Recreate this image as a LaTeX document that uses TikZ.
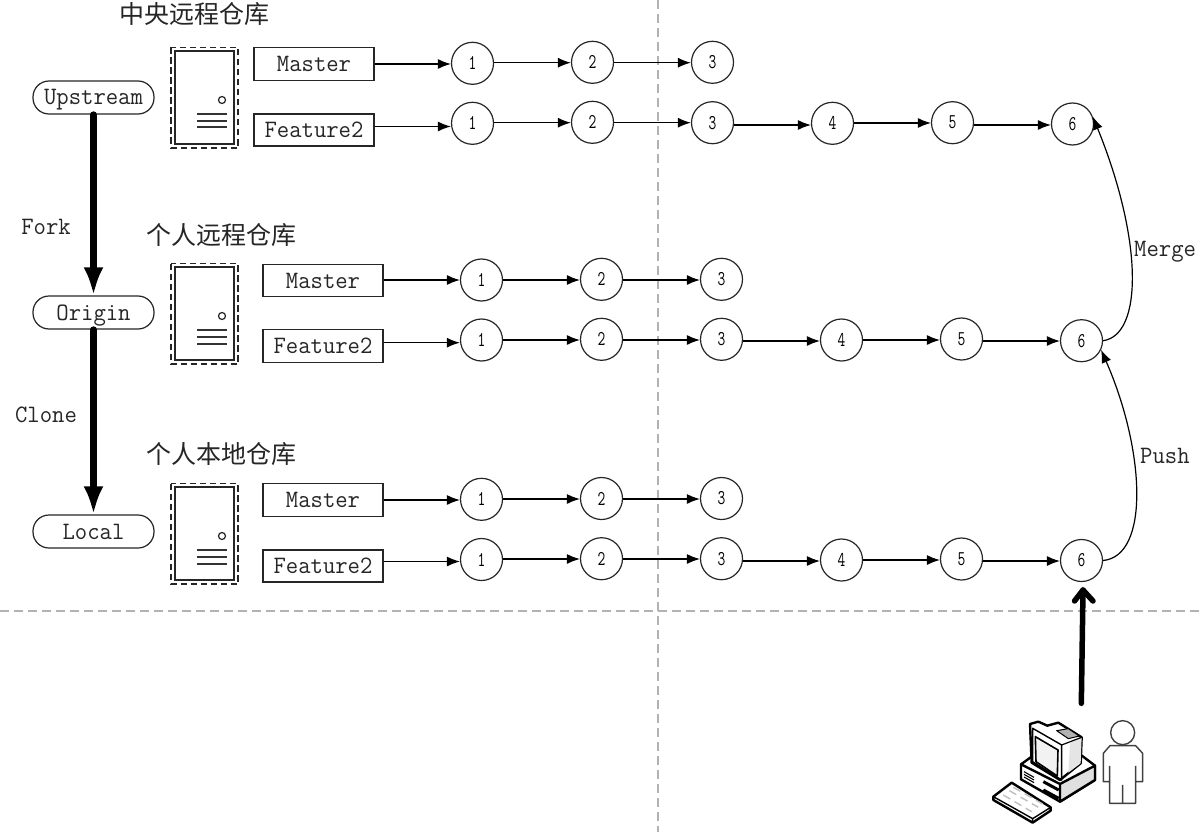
\documentclass[tikz,border=0pt]{standalone}
\usepackage{fontspec}
\usepackage{graphicx}
\newfontfamily\cjk{Noto Sans CJK SC}
\usetikzlibrary{arrows.meta}
\newcommand{\mono}[1]{\scalebox{.96}[1]{#1}}
\newcommand{\digit}[1]{\scalebox{.72}[1]{#1}}
\tikzset{
  x=1pt,y=-1pt,
  stroke/.style={draw=black!85,line width=1.2pt},
  commit/.style={circle,stroke,fill=white,minimum size=42pt,inner sep=0pt,font=\ttfamily\fontsize{21}{21}\selectfont},
  monotext/.style={inner sep=0pt,text height=15pt,text depth=0pt,font=\ttfamily\fontsize{25}{27}\selectfont,text=black!85},
  branch/.style={rectangle,stroke,fill=white,minimum width=120pt,inner sep=0pt,monotext},
  repo/.style={rectangle,rounded corners=16pt,stroke,fill=white,minimum width=121pt,minimum height=33pt,monotext},
  plain/.style={monotext},
  title/.style={inner sep=0pt,font=\cjk\fontsize{25}{27}\selectfont,text=black!85},
  link/.style={draw=black,line width=1.2pt,-{Latex[length=13pt,width=10pt]}},
  heavy/.style={draw=black,line width=6.5pt,line cap=round,-{Latex[length=28pt,width=20pt]}},
  guide/.style={draw=black!30,line width=1.1pt,dash pattern=on 9pt off 5pt},
  pc/.style={draw=black,line width=2.4pt,line join=round},
}
\newcommand{\serverat}[1]{%
  \begin{scope}[yshift=-#1pt]
    \draw[black!85,line width=1.1pt,dash pattern=on 6.5pt off 3.5pt] (171,47.5) rectangle (238,148);
    \draw[stroke,line width=1.3pt] (175,51) rectangle (234,144);
    \draw[stroke] (222,100) circle (3.5);
    \draw[black!80,line width=2pt] (197,114) -- (227,114) (197,121) -- (227,121) (197,127.5) -- (227,127.5);
  \end{scope}}
% prefix, box centre x, box centre y, box height, label, list of number/circle y/connector y
\newcommand{\commitrow}[6]{%
  \node[branch,minimum height=#4pt] (#1L) at (#2,#3) {\mono{#5}};
  \foreach \i/\cy/\ay [remember=\i as \p (initially L)] in {#6} {
    \pgfmathsetmacro{\cx}{#2+38.5+120*\i}
    \node[commit] (#1\i) at (\cx,\cy) {\digit{\i}};
    \draw[link] (#1\p.east |- 0,\ay) -- (#1\i.west |- 0,\ay);
  }}
\begin{document}
\begin{tikzpicture}
\useasboundingbox (0,0) rectangle (1204,832);
\fill[white] (0,0) rectangle (1204,832);
\coordinate (vt) at (658,0); \coordinate (vb) at (658,832);
\coordinate (hl) at (0,611); \coordinate (hr) at (1204,611);
\draw[guide] (vt) -- (vb);
\draw[guide] (hl) -- (hr);

\serverat{0}\serverat{216}\serverat{436}

\node[title] (t1) at (194,14) {中央远程仓库};
\node[title] (t2) at (221,235) {个人远程仓库};
\node[title] (t3) at (221,454) {个人本地仓库};

\node[repo] (up) at (93.5,97.5) {\mono{Upstream}};
\node[repo] (or) at (93.5,312.5) {\mono{Origin}};
\node[repo] (lo) at (93.5,531.5) {\mono{Local}};
\draw[heavy] (up) -- (or);
\draw[heavy] (or) -- (lo);
\node[plain] (fork) at (46,227) {\mono{Fork}};
\node[plain] (clone) at (46,415) {\mono{Clone}};

\commitrow{am}{314}{64}{33}{Master}{1/63.3/64,2/62.3/62.7,3/62.3/62.7}
\commitrow{af}{314}{130}{32}{Feature2}{1/123.3/126.5,2/122.3/122.7,3/122.7/122.7,4/123.3/125,5/122.7/123,6/124/125}
\commitrow{bm}{323}{280.5}{32}{Master}{1/280/280,2/279.3/280,3/279.3/280}
\commitrow{bf}{323}{346}{33}{Feature2}{1/340/342.7,2/339.3/340,3/339.3/340,4/340/341,5/339/340,6/340.7/341}
\commitrow{cm}{323}{500}{33}{Master}{1/499.3/500,2/498.5/499,3/498.5/499}
\commitrow{cf}{323}{566}{32}{Feature2}{1/559.5/561.5,2/558.7/559,3/558.7/559,4/560/561,5/559/560,6/560.5/561}

\draw[link] (bf6.east) .. controls (1143,335) and (1143,240) .. (af6.20);
\draw[link] (cf6.east) .. controls (1150,556) and (1145,450) .. (bf6.-25);
\node[plain,anchor=west] (merge) at (1134,249) {\mono{Merge}};
\node[plain,anchor=west] (push) at (1140,456) {\mono{Push}};

% workstation icon
\begin{scope}[shift={(960,580)},x=0.3333pt,y=-0.3333pt]
  \coordinate (pcup) at (364,370);
  % person
  \draw[black!75,line width=1.4pt] (488,458) circle (36);
  \draw[black!75,line width=1.4pt,line join=round]
    (449,558) -- (449,605) -- (430,605) -- (430,520) -- (450,497) -- (527,497) -- (548,520) -- (548,605) -- (527,605) -- (527,558)
    (449,605) -- (449,670) -- (527,670) -- (527,605)
    (488,615) -- (488,670);
  % base
  \draw[pc,fill=white] (183,553) -- (215,530) -- (330,500) -- (405,557) -- (405,600) -- (300,665) -- (183,598) -- cycle;
  \fill[black!12] (300,612) -- (405,557) -- (405,600) -- (300,665) -- cycle;
  \draw[pc] (183,553) -- (300,612) -- (405,557) -- (405,600) -- (300,665) -- (300,612);
  \draw[black,line width=1.1pt] (192,575) -- (222,592) (192,583) -- (222,600) (192,591) -- (222,608);
  \draw[black,line width=3pt] (250,605) -- (296,630) (250,630) -- (296,655);
  % monitor
  \draw[pc,fill=white] (210,432) -- (235,425) -- (262,437) -- (295,428) -- (365,472) -- (362,550) -- (300,600) -- (215,548) -- cycle;
  \fill[black!10] (330,490) -- (365,472) -- (362,550) -- (325,578) -- cycle;
  \draw[pc,line width=1.4pt] (218,445) -- (305,495) -- (305,600) -- (218,545) -- cycle;
  \draw[pc,fill=black!5,line width=1.6pt] (226,470) -- (294,510) -- (292,588) -- (228,545) -- cycle;
  \draw[pc,fill=black!30,line width=1pt] (290,452) -- (325,446) -- (358,468) -- (325,476) -- cycle;
  \draw[pc,line width=1.2pt] (305,495) -- (365,472);
  % keyboard
  \draw[pc,fill=white] (100,650) -- (155,608) -- (272,682) -- (272,692) -- (218,728) -- (100,660) -- cycle;
  \draw[pc,line width=1.4pt] (100,650) -- (218,716) -- (272,682) (218,716) -- (218,728);
  \draw[black!25,line width=1.4pt,dash pattern=on 8pt off 5pt] (130,645) -- (215,695) (148,632) -- (235,682) (160,622) -- (248,672);
\end{scope}
\coordinate (pctop) at (1083,590);
\coordinate (pcl) at (1074.5,601); \coordinate (pcr) at (1093,601);
\draw[black,line width=5.5pt,line cap=round,line join=round] (pcup) -- (pctop);
\draw[black,line width=5.5pt,line cap=round,line join=round] (pcl) -- (pctop) -- (pcr);
\end{tikzpicture}
\end{document}
